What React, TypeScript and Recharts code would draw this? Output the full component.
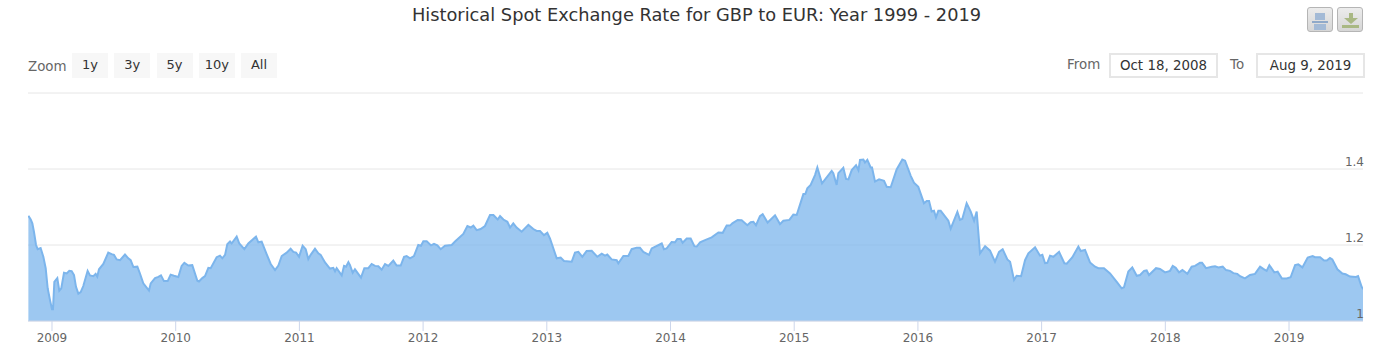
import { AreaChart, Area, XAxis, YAxis, CartesianGrid } from 'recharts'

const title = 'Historical Spot Exchange Rate for GBP to EUR: Year 1999 - 2019'
const zoomLabels = ['1y', '3y', '5y', '10y', 'All']
const fromDate = 'Oct 18, 2008'
const toDate = 'Aug 9, 2019'
const yearTicks = [2009, 2010, 2011, 2012, 2013, 2014, 2015, 2016, 2017, 2018, 2019]
const rateTicks = [1, 1.2, 1.4, 1.6]

// decimal year of each sample
const dates = [
  2008.809, 2008.828, 2008.841, 2008.854, 2008.871, 2008.884, 2008.908, 2008.93, 2008.949, 2008.965, 2008.984,
  2009.0, 2009.008, 2009.019, 2009.043, 2009.059, 2009.075, 2009.097, 2009.119, 2009.14, 2009.159, 2009.178,
  2009.194, 2009.213, 2009.232, 2009.253, 2009.288, 2009.307, 2009.334, 2009.353, 2009.366, 2009.38, 2009.415,
  2009.455, 2009.482, 2009.501, 2009.523, 2009.55, 2009.59, 2009.617, 2009.636, 2009.658, 2009.69, 2009.711,
  2009.738, 2009.784, 2009.798, 2009.833, 2009.86, 2009.881, 2009.905, 2009.935, 2009.959, 2009.986,
  2010.021, 2010.048, 2010.07, 2010.102, 2010.134, 2010.175, 2010.188, 2010.215, 2010.237, 2010.264, 2010.283,
  2010.331, 2010.358, 2010.377, 2010.399, 2010.417, 2010.439, 2010.452, 2010.493, 2010.514, 2010.555, 2010.587,
  2010.649, 2010.668, 2010.695, 2010.735, 2010.768, 2010.803, 2010.83, 2010.857, 2010.897, 2010.929, 2010.951,
  2010.973, 2010.997,
  2011.026, 2011.051, 2011.072, 2011.091, 2011.126, 2011.153, 2011.172, 2011.207, 2011.247, 2011.274, 2011.288,
  2011.301, 2011.342, 2011.361, 2011.377, 2011.396, 2011.409, 2011.431, 2011.449, 2011.498, 2011.525, 2011.557,
  2011.584, 2011.611, 2011.638, 2011.665, 2011.692, 2011.719, 2011.759, 2011.786, 2011.819, 2011.846, 2011.867,
  2011.894, 2011.926, 2011.961, 2011.983,
  2012.002, 2012.029, 2012.064, 2012.088, 2012.115, 2012.142, 2012.177, 2012.231, 2012.258, 2012.325, 2012.358,
  2012.385, 2012.406, 2012.433, 2012.465, 2012.5, 2012.541, 2012.568, 2012.603, 2012.622, 2012.649, 2012.681,
  2012.703, 2012.729, 2012.756, 2012.797, 2012.851, 2012.891, 2012.918, 2012.945, 2012.977,
  2013.004, 2013.026, 2013.08, 2013.112, 2013.139, 2013.201, 2013.228, 2013.255, 2013.287, 2013.322, 2013.363,
  2013.408, 2013.444, 2013.47, 2013.489, 2013.524, 2013.565, 2013.578, 2013.619, 2013.659, 2013.686, 2013.726,
  2013.753, 2013.78, 2013.826, 2013.848, 2013.929, 2013.947, 2013.969,
  2014.009, 2014.036, 2014.055, 2014.082, 2014.098, 2014.131, 2014.163, 2014.193, 2014.212, 2014.239, 2014.279,
  2014.333, 2014.387, 2014.422, 2014.454, 2014.481, 2014.5, 2014.543, 2014.575, 2014.621, 2014.648, 2014.67,
  2014.691, 2014.723, 2014.745, 2014.785, 2014.845, 2014.885, 2014.912, 2014.961, 2014.993,
  2015.02, 2015.074, 2015.09, 2015.106, 2015.133, 2015.168, 2015.187, 2015.225, 2015.303, 2015.316, 2015.343,
  2015.357, 2015.397, 2015.419, 2015.438, 2015.465, 2015.5, 2015.519, 2015.532, 2015.559, 2015.572, 2015.591,
  2015.618, 2015.629, 2015.653, 2015.686, 2015.726, 2015.748, 2015.78, 2015.828, 2015.874, 2015.896, 2015.942,
  2015.968,
  2016.003, 2016.049, 2016.071, 2016.09, 2016.111, 2016.13, 2016.146, 2016.165, 2016.184, 2016.246, 2016.265,
  2016.319, 2016.34, 2016.359, 2016.394, 2016.427, 2016.454, 2016.475, 2016.502, 2016.543, 2016.583, 2016.623,
  2016.656, 2016.685, 2016.723, 2016.745, 2016.777, 2016.798, 2016.834, 2016.866, 2016.893, 2016.947, 2016.987,
  2017.006, 2017.028, 2017.046, 2017.068, 2017.095, 2017.141, 2017.184, 2017.203, 2017.249, 2017.297, 2017.316,
  2017.351, 2017.391, 2017.432, 2017.459, 2017.504, 2017.553, 2017.612, 2017.647, 2017.666, 2017.701, 2017.733,
  2017.769, 2017.796, 2017.828, 2017.849, 2017.868, 2017.925, 2017.957, 2017.998,
  2018.038, 2018.06, 2018.084, 2018.111, 2018.138, 2018.178, 2018.213, 2018.24, 2018.28, 2018.297, 2018.329,
  2018.375, 2018.402, 2018.429, 2018.464, 2018.491, 2018.523, 2018.55, 2018.582, 2018.604, 2018.644, 2018.685,
  2018.725, 2018.766, 2018.792, 2018.819, 2018.841, 2018.881, 2018.908, 2018.943, 2018.981,
  2019.013, 2019.049, 2019.075, 2019.108, 2019.151, 2019.191, 2019.21, 2019.251, 2019.283, 2019.305, 2019.331,
  2019.35, 2019.391, 2019.431, 2019.458, 2019.493, 2019.541, 2019.558, 2019.587, 2019.6,
]

const rates = [
  1.277, 1.267, 1.257, 1.235, 1.2, 1.189, 1.192, 1.169, 1.139, 1.086, 1.055,
  1.031, 1.031, 1.103, 1.113, 1.08, 1.086, 1.127, 1.125, 1.132, 1.131, 1.121,
  1.09, 1.072, 1.076, 1.092, 1.132, 1.12, 1.118, 1.124, 1.117, 1.136, 1.15,
  1.18, 1.176, 1.174, 1.162, 1.16, 1.175, 1.165, 1.16, 1.142, 1.143, 1.125,
  1.099, 1.08, 1.099, 1.113, 1.116, 1.12, 1.105, 1.105, 1.122, 1.119,
  1.116, 1.145, 1.153, 1.146, 1.147, 1.106, 1.104, 1.113, 1.118, 1.14, 1.139,
  1.168, 1.172, 1.165, 1.174, 1.202, 1.209, 1.204, 1.222, 1.204, 1.189, 1.204,
  1.222, 1.207, 1.209, 1.176, 1.15, 1.134, 1.146, 1.171, 1.18, 1.19, 1.182,
  1.18, 1.169,
  1.198, 1.189, 1.163, 1.174, 1.19, 1.178, 1.174, 1.154, 1.138, 1.14, 1.131,
  1.139, 1.12, 1.145, 1.143, 1.155, 1.147, 1.127, 1.136, 1.114, 1.139, 1.139,
  1.15, 1.145, 1.144, 1.135, 1.15, 1.145, 1.159, 1.146, 1.146, 1.169, 1.171,
  1.165, 1.171, 1.2, 1.198,
  1.21, 1.21, 1.199, 1.203, 1.199, 1.189, 1.198, 1.2, 1.209, 1.229, 1.25,
  1.246, 1.251, 1.239, 1.242, 1.25, 1.279, 1.279, 1.267, 1.276, 1.267, 1.261,
  1.246, 1.257, 1.246, 1.235, 1.253, 1.242, 1.237, 1.237, 1.226,
  1.232, 1.217, 1.165, 1.167, 1.158, 1.156, 1.18, 1.182, 1.169, 1.184, 1.185,
  1.169, 1.177, 1.172, 1.175, 1.162, 1.16, 1.152, 1.171, 1.171, 1.189, 1.193,
  1.193, 1.182, 1.174, 1.191, 1.204, 1.189, 1.191,
  1.208, 1.207, 1.216, 1.216, 1.206, 1.217, 1.217, 1.197, 1.196, 1.207, 1.213,
  1.22, 1.233, 1.232, 1.251, 1.251, 1.257, 1.266, 1.265, 1.252, 1.26, 1.261,
  1.252, 1.276, 1.281, 1.259, 1.278, 1.255, 1.264, 1.266, 1.28,
  1.279, 1.334, 1.334, 1.349, 1.358, 1.384, 1.404, 1.362, 1.395, 1.389, 1.358,
  1.389, 1.403, 1.374, 1.373, 1.397, 1.41, 1.397, 1.424, 1.425, 1.417, 1.424,
  1.404, 1.404, 1.367, 1.373, 1.369, 1.353, 1.352, 1.399, 1.425, 1.422, 1.382,
  1.364,
  1.353, 1.31, 1.316, 1.316, 1.288, 1.29, 1.273, 1.29, 1.29, 1.264, 1.243,
  1.287, 1.266, 1.269, 1.31, 1.288, 1.264, 1.288, 1.178, 1.197, 1.185, 1.156,
  1.182, 1.189, 1.162, 1.156, 1.108, 1.119, 1.118, 1.16, 1.178, 1.194, 1.172,
  1.174, 1.152, 1.153, 1.172, 1.169, 1.182, 1.152, 1.151, 1.168, 1.196, 1.184,
  1.187, 1.154, 1.143, 1.139, 1.139, 1.125, 1.101, 1.086, 1.089, 1.13, 1.141,
  1.119, 1.121, 1.132, 1.133, 1.121, 1.139, 1.137, 1.128,
  1.132, 1.145, 1.14, 1.128, 1.134, 1.124, 1.143, 1.145, 1.153, 1.153, 1.139,
  1.143, 1.144, 1.141, 1.143, 1.134, 1.132, 1.126, 1.124, 1.118, 1.112, 1.121,
  1.124, 1.143, 1.137, 1.132, 1.147, 1.128, 1.13, 1.112, 1.112,
  1.115, 1.147, 1.149, 1.141, 1.167, 1.171, 1.168, 1.168, 1.159, 1.159, 1.166,
  1.162, 1.136, 1.125, 1.123, 1.117, 1.116, 1.118, 1.09, 1.084,
]

const chartData = dates.map((date, i) => ({ date, rate: rates[i] }))

const FONT = '"DejaVu Sans", sans-serif'

function RateTick({ y, payload }: any) {
  // the top gridline has no label in the reference
  if (payload.value > 1.4) return null
  const isBase = payload.value === 1
  return (
    <text x={1364} y={y - 3} textAnchor="end" fill="#666666" fontSize={12} fontFamily={FONT}>
      {isBase ? '1' : payload.value.toFixed(1)}
    </text>
  )
}

function PrintIcon() {
  return (
    <svg width={24} height={23} style={{ display: 'block' }}>
      <rect x={7} y={5} width={10} height={7} fill="#a3bad6" />
      <rect x={4} y={13} width={16} height={2} fill="#8fa9c9" />
      <rect x={6} y={16} width={12} height={6} fill="#a3bad6" />
    </svg>
  )
}

function DownloadIcon() {
  return (
    <svg width={24} height={23} style={{ display: 'block' }}>
      <rect x={11} y={5} width={4} height={5} fill="#a9b884" />
      <polygon points="6,10 20,10 13,16" fill="#a9b884" />
      <rect x={4} y={17} width={17} height={3} fill="#a9b884" />
    </svg>
  )
}

function ExportButton({ left, children }: { left: number; children: any }) {
  return (
    <div
      style={{
        position: 'absolute',
        left,
        top: 7,
        width: 26,
        height: 25,
        boxSizing: 'border-box',
        border: '1px solid #b5b5b5',
        borderRadius: 3,
        background: 'linear-gradient(#ececec, #d6d6d6)',
      }}
    >
      {children}
    </div>
  )
}

const boxStyle = {
  position: 'absolute',
  top: 53,
  height: 25,
  lineHeight: '21px',
  boxSizing: 'border-box',
  textAlign: 'center',
  fontSize: 13.4,
  color: '#333333',
  border: '2px solid #e6e6e6',
  background: '#ffffff',
} as const

const labelStyle = {
  position: 'absolute',
  top: 57,
  fontSize: 13.4,
  color: '#666666',
} as const

export default function App() {
  return (
    <div style={{ position: 'relative', width: 1379, height: 361, fontFamily: FONT, overflow: 'hidden' }}>
      <style>{'body{margin:0}'}</style>
      <AreaChart
        width={1379}
        height={361}
        data={chartData}
        margin={{ top: 93, right: 16, bottom: 0, left: 28 }}
      >
        <CartesianGrid vertical={false} stroke="#e6e6e6" strokeWidth={1} />
        <XAxis
          dataKey="date"
          type="number"
          domain={[2008.806, 2019.598]}
          ticks={yearTicks}
          height={40}
          stroke="#ccd6eb"
          tickSize={10}
          tick={{ fill: '#666666', fontSize: 12, fontFamily: FONT }}
          tickFormatter={(v: number) => String(v)}
          allowDataOverflow
        />
        <Area
          dataKey="rate"
          type="linear"
          stroke="#7cb5ec"
          strokeWidth={2}
          fill="#7cb5ec"
          fillOpacity={0.75}
          dot={false}
          activeDot={false}
          isAnimationActive={false}
        />
        <YAxis
          orientation="right"
          mirror
          width={1}
          domain={[1, 1.6]}
          ticks={rateTicks}
          axisLine={false}
          tickLine={false}
          tick={<RateTick />}
          allowDataOverflow
        />
      </AreaChart>

      <div
        style={{
          position: 'absolute',
          left: 0,
          width: 1393,
          top: 4,
          textAlign: 'center',
          fontSize: 17.8,
          color: '#333333',
          whiteSpace: 'nowrap',
        }}
      >
        {title}
      </div>

      <div style={{ ...labelStyle, left: 28, top: 59 }}>Zoom</div>
      {zoomLabels.map((label, i) => (
        <div
          key={label}
          style={{
            position: 'absolute',
            left: 72 + i * 42.25,
            top: 53,
            width: 36,
            height: 25,
            lineHeight: '24px',
            textAlign: 'center',
            fontSize: 13,
            color: '#333333',
            background: '#f7f7f7',
          }}
        >
          {label}
        </div>
      ))}

      <div style={{ ...labelStyle, left: 1067 }}>From</div>
      <div style={{ ...boxStyle, left: 1109, width: 109 }}>{fromDate}</div>
      <div style={{ ...labelStyle, left: 1230 }}>To</div>
      <div style={{ ...boxStyle, left: 1256, width: 109 }}>{toDate}</div>

      <ExportButton left={1307}>
        <PrintIcon />
      </ExportButton>
      <ExportButton left={1337}>
        <DownloadIcon />
      </ExportButton>
    </div>
  )
}
